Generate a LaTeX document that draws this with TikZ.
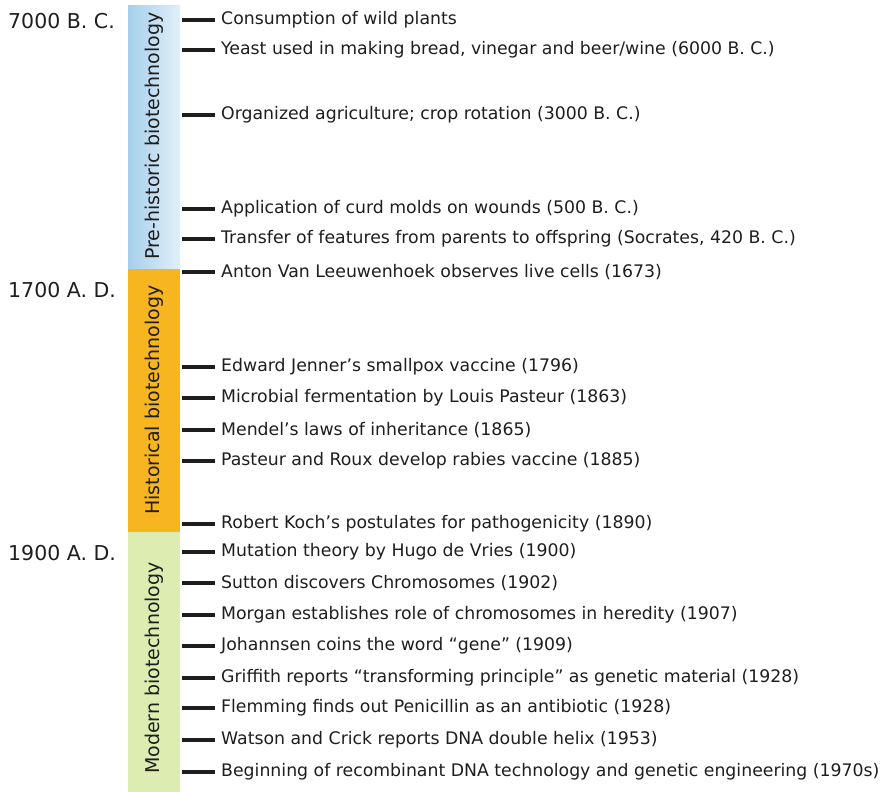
\documentclass[tikz,border=0pt]{standalone}
\usepackage{fontspec}
\setmainfont{DejaVu Sans}
\usetikzlibrary{positioning}

\definecolor{prehist}{HTML}{A6CFEC}
\definecolor{prehistlight}{HTML}{E2EFF9}
\definecolor{hist}{HTML}{F7B520}
\definecolor{modern}{HTML}{DDEDB2}
\definecolor{ink}{HTML}{1E1E1E}

\tikzset{
  EraBar/.style={draw=none},
  EraLabel/.style={rotate=90,text=ink,font=\fontsize{19}{21}\selectfont,inner sep=0pt},
  DateLabel/.style={anchor=west,text=ink,inner sep=0pt,font=\fontsize{20.5}{23}\selectfont},
  Event/.style={anchor=west,text=ink,inner xsep=6pt,inner ysep=0pt,font=\fontsize{17.3}{20}\selectfont},
  Tick/.style={line width=3.2pt,draw=ink}
}

\begin{document}
\begin{tikzpicture}[x=1pt,y=-1pt]
  \useasboundingbox (0,0) rectangle (886,792);

  % era bars
  \fill[EraBar,left color=prehist,right color=prehistlight] (128,6) rectangle (180,269);
  \fill[EraBar,hist] (128,269) rectangle (180,532);
  \fill[EraBar,modern] (128,532) rectangle (180,792);

  \node[EraLabel] (pre) at (154,136) {Pre-historic biotechnology};
  \node[EraLabel] (his) at (154,400) {Historical biotechnology};
  \node[EraLabel] (mod) at (154,668) {Modern biotechnology};

  % dates
  \node[DateLabel] (d7000) at (8,21) {7000 B. C.};
  \node[DateLabel] (d1700) at (8,290) {1700 A. D.};
  \node[DateLabel] (d1900) at (8,553) {1900 A. D.};

  % events
  \node[Event] (wild) at (215,20) {Consumption of wild plants};
  \node[Event] (yeast) at (215,50) {Yeast used in making bread, vinegar and beer/wine (6000 B. C.)};
  \node[Event] (agri) at (215,115) {Organized agriculture; crop rotation (3000 B. C.)};
  \node[Event] (curd) at (215,209) {Application of curd molds on wounds (500 B. C.)};
  \node[Event] (socr) at (215,239) {Transfer of features from parents to offspring (Socrates, 420 B. C.)};
  \node[Event] (leeu) at (215,272) {Anton Van Leeuwenhoek observes live cells (1673)};
  \node[Event] (jenn) at (215,367) {Edward Jenner’s smallpox vaccine (1796)};
  \node[Event] (ferm) at (215,398) {Microbial fermentation by Louis Pasteur (1863)};
  \node[Event] (mend) at (215,430) {Mendel’s laws of inheritance (1865)};
  \node[Event] (rabi) at (215,461) {Pasteur and Roux develop rabies vaccine (1885)};
  \node[Event] (koch) at (215,524) {Robert Koch’s postulates for pathogenicity (1890)};
  \node[Event] (vrie) at (215,552) {Mutation theory by Hugo de Vries (1900)};
  \node[Event] (sutt) at (215,583) {Sutton discovers Chromosomes (1902)};
  \node[Event] (morg) at (215,615) {Morgan establishes role of chromosomes in heredity (1907)};
  \node[Event] (gene) at (215,646) {Johannsen coins the word “gene” (1909)};
  \node[Event] (grif) at (215,678) {Griffith reports “transforming principle” as genetic material (1928)};
  \node[Event] (flem) at (215,708) {Flemming finds out Penicillin as an antibiotic (1928)};
  \node[Event] (dna) at (215,740) {Watson and Crick reports DNA double helix (1953)};
  \node[Event] (rdna) at (215,772) {Beginning of recombinant DNA technology and genetic engineering (1970s)};

  % ticks
  \foreach \ev in {wild,yeast,agri,curd,socr,leeu,jenn,ferm,mend,rabi,koch,vrie,sutt,morg,gene,grif,flem,dna,rdna}{
    \coordinate (t-\ev) at ([xshift=-33pt]\ev.west);
    \draw[Tick] (t-\ev) -- (\ev);
  }
\end{tikzpicture}
\end{document}
